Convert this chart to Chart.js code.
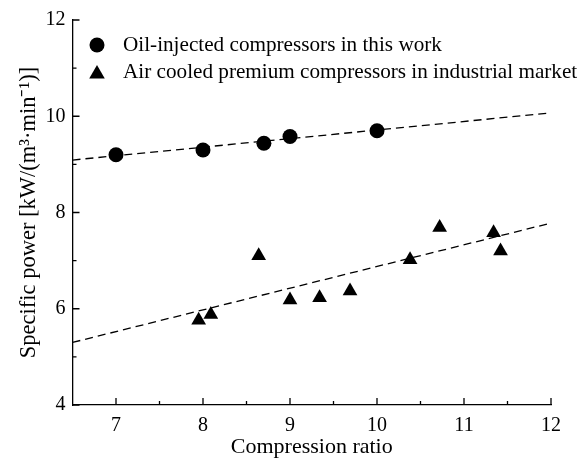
<html>
<head>
<script src="https://cdn.jsdelivr.net/npm/chart.js@4.4.1/dist/chart.umd.min.js"></script>
<style>
  body { margin: 0; padding: 0; background: #fff; }
  .chartBox { width: 582px; height: 460px; }
</style>
</head>
<body>
<div class="chartBox">
  <canvas id="myChart"></canvas>
</div>
<script>
// measured points
const oilX = [7, 8, 8.7, 9, 10];
const oilY = [9.2, 9.3, 9.44, 9.58, 9.7];
const airX = [7.95, 8.09, 8.64, 9.0, 9.34, 9.69, 10.38, 10.72, 11.34, 11.42];
const airY = [5.76, 5.88, 7.10, 6.18, 6.23, 6.37, 7.02, 7.69, 7.58, 7.20];
// linear fit end points
const fitX = [6.5, 12];
const oilFitY = [9.09, 10.07];
const airFitY = [5.30, 7.78];

const xTicks = [7, 8, 9, 10, 11, 12];
const xMinor = [7.5, 8.5, 9.5, 10.5, 11.5];
const yTicks = [4, 6, 8, 10, 12];
const yMinor = [5, 7, 9, 11];

const legendLabels = ['Oil-injected compressors in this work',
                      'Air cooled premium compressors in industrial market'];

const FONT = '"Liberation Serif", "Times New Roman", serif';

function pts(xs, ys) {
    return xs.map((x, i) => ({x: x, y: ys[i]}));
}

// inward ticks and the legend inside the plot
const extras = {
    id: 'extras',
    afterDraw(chart) {
        const c = chart.ctx;
        const xs = chart.scales.x, ys = chart.scales.y;
        const a = chart.chartArea;
        c.save();
        c.strokeStyle = '#000';
        c.lineWidth = 1.3;
        c.beginPath();
        xTicks.forEach(v => { const p = xs.getPixelForValue(v); c.moveTo(p, a.bottom); c.lineTo(p, a.bottom - 7); });
        xMinor.forEach(v => { const p = xs.getPixelForValue(v); c.moveTo(p, a.bottom); c.lineTo(p, a.bottom - 4); });
        yTicks.forEach(v => { const p = ys.getPixelForValue(v); c.moveTo(a.left, p); c.lineTo(a.left + 7, p); });
        yMinor.forEach(v => { const p = ys.getPixelForValue(v); c.moveTo(a.left, p); c.lineTo(a.left + 4, p); });
        c.stroke();

        // legend
        const lx = 97, ly = [45, 72];
        c.fillStyle = '#000';
        c.beginPath();
        c.arc(lx, ly[0], 7.5, 0, Math.PI * 2);
        c.fill();
        const r = 9, ty = ly[1] + 2;
        c.beginPath();
        c.moveTo(lx, ty - r);
        c.lineTo(lx + r * 0.866, ty + r / 2);
        c.lineTo(lx - r * 0.866, ty + r / 2);
        c.closePath();
        c.fill();
        c.font = '21.2px ' + FONT;
        c.textBaseline = 'middle';
        c.textAlign = 'left';
        c.fillText(legendLabels[0], 123, ly[0]);
        c.fillText(legendLabels[1], 123, ly[1]);
        c.restore();
    }
};

new Chart(document.getElementById('myChart'), {
    type: 'scatter',
    data: {
        datasets: [
            {
                data: pts(oilX, oilY),
                pointStyle: 'circle',
                pointRadius: 7.5,
                backgroundColor: '#000',
                borderColor: '#000',
                borderWidth: 0
            },
            {
                data: pts(airX, airY),
                pointStyle: 'triangle',
                pointRadius: 8.5,
                backgroundColor: '#000',
                borderColor: '#000',
                borderWidth: 0
            },
            {
                data: pts(fitX, oilFitY),
                showLine: true,
                pointRadius: 0,
                borderColor: '#000',
                borderWidth: 1.3,
                borderDash: [8, 5]
            },
            {
                data: pts(fitX, airFitY),
                showLine: true,
                pointRadius: 0,
                borderColor: '#000',
                borderWidth: 1.3,
                borderDash: [8, 5]
            }
        ]
    },
    options: {
        responsive: true,
        maintainAspectRatio: false,
        animation: false,
        layout: { padding: { top: 20, right: 31, left: 0, bottom: 0 } },
        plugins: {
            legend: { display: false },
            tooltip: { enabled: false }
        },
        scales: {
            x: {
                type: 'linear',
                min: 6.5,
                max: 12,
                afterBuildTicks: s => { s.ticks = xTicks.map(v => ({value: v})); },
                afterFit: s => { s.height = 55; },
                grid: { display: false },
                border: { display: true, color: '#000', width: 1.3 },
                ticks: { color: '#000', font: { family: FONT, size: 20 }, padding: 1, maxRotation: 0 },
                title: { display: true, text: 'Compression ratio', color: '#000',
                         font: { family: FONT, size: 22 }, padding: 0 }
            },
            y: {
                type: 'linear',
                min: 4,
                max: 12,
                afterBuildTicks: s => { s.ticks = yTicks.map(v => ({value: v})); },
                afterFit: s => { s.width = 72.5; },
                grid: { display: false, drawTicks: false },
                border: { display: true, color: '#000', width: 1.3 },
                ticks: { color: '#000', font: { family: FONT, size: 20 }, padding: 7 },
                title: { display: true, text: 'Specific power [kW/(m³·min⁻¹)]', color: '#000',
                         font: { family: FONT, size: 22.5 }, padding: { top: 16, bottom: 0 } }
            }
        }
    },
    plugins: [extras]
});
</script>
</body>
</html>
